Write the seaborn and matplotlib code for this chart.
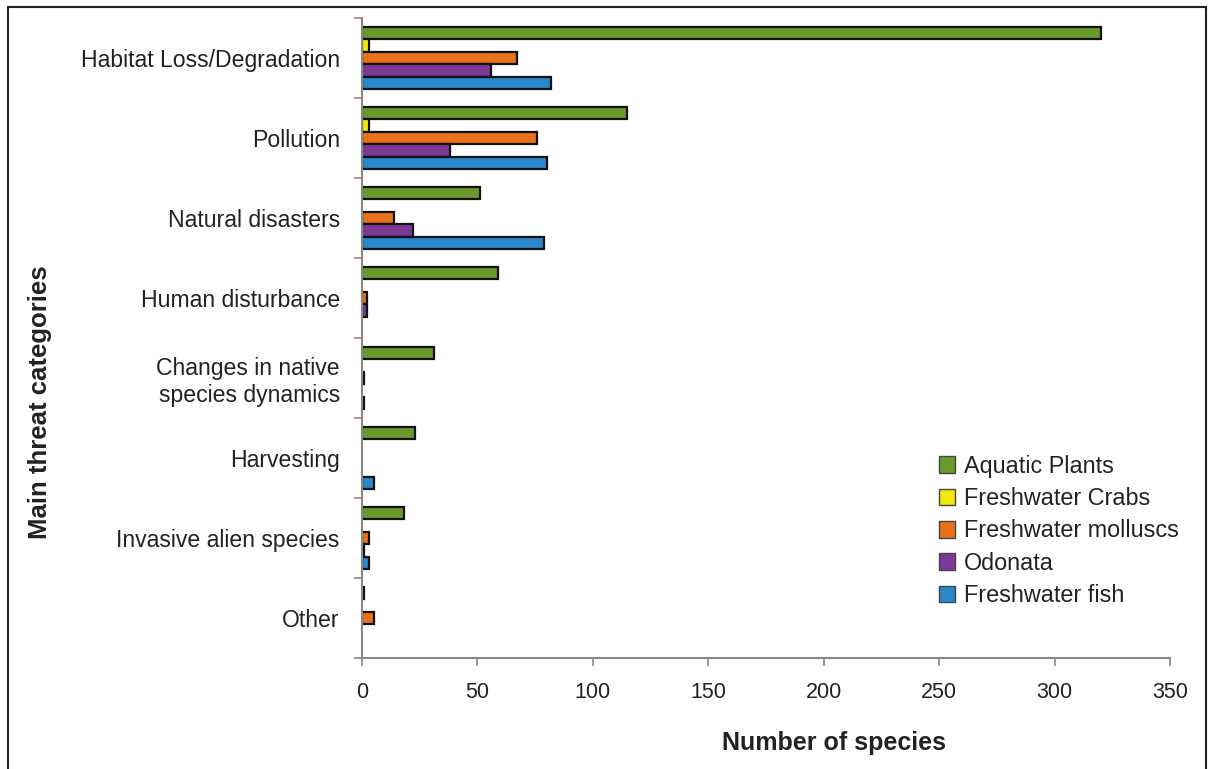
import numpy as np
import pandas as pd
import matplotlib
matplotlib.use("Agg")
import matplotlib.pyplot as plt
import seaborn as sns
from matplotlib.patches import Rectangle

categories = ["Habitat Loss/Degradation", "Pollution", "Natural disasters",
              "Human disturbance", "Changes in native\nspecies dynamics",
              "Harvesting", "Invasive alien species", "Other"]
groups = ["Aquatic Plants", "Freshwater Crabs", "Freshwater molluscs",
          "Odonata", "Freshwater fish"]
aquatic_plants = [320, 115, 51, 59, 31, 23, 18, 1]
freshwater_crabs = [3, 3, 0, 0, 0, 0, 0, 0]
freshwater_molluscs = [67, 76, 14, 2, 1, 0, 3, 5]
odonata = [56, 38, 22, 2, 0, 0, 1, 0]
freshwater_fish = [82, 80, 79, 0, 1, 5, 3, 0]
colors = ["#6a9a2e", "#f2e80a", "#e8711a", "#7a3996", "#2a88cc"]

rows = []
for g, vals in zip(groups, [aquatic_plants, freshwater_crabs, freshwater_molluscs,
                            odonata, freshwater_fish]):
    for c, v in zip(categories, vals):
        rows.append({"category": c, "group": g, "value": v})
df = pd.DataFrame(rows)

sns.set_theme(style="white")
plt.rcParams['font.family'] = ['Liberation Sans', 'DejaVu Sans']

W, H = 1212, 769
fig = plt.figure(figsize=(W / 100, H / 100), dpi=100)
ax = fig.add_axes([362 / W, 1 - 658 / H, (1170 - 362) / W, (658 - 18) / H])

sns.barplot(data=df, y="category", x="value", hue="group", order=categories,
            hue_order=groups, palette=colors, orient="h", width=0.78,
            saturation=1, edgecolor="#111111", linewidth=1.6, ax=ax)

for cont in ax.containers:
    for bar in cont:
        if bar.get_width() == 0:
            bar.set_visible(False)

ax.set_xlim(0, 350)
ax.set_ylim(len(categories) - 0.5, -0.5)
ax.set_xticks(np.arange(0, 351, 50))
ax.set_xticklabels([str(v) for v in range(0, 351, 50)], fontsize=15.5)
ax.set_yticks(np.arange(len(categories)))
ax.set_yticklabels(categories, fontsize=16.6, linespacing=1.2)
ax.set_yticks(np.arange(-0.5, len(categories), 1.0), minor=True)
ax.tick_params(axis="y", which="major", length=0, pad=16, labelcolor="#222222")
ax.tick_params(axis="y", which="minor", length=6, width=1.2, color="#888888", left=True)
ax.tick_params(axis="x", which="major", length=6, width=1.2, color="#888888",
               bottom=True, pad=11, labelcolor="#222222")

for s in ["top", "right"]:
    ax.spines[s].set_visible(False)
for s in ["left", "bottom"]:
    ax.spines[s].set_color("#888888")
    ax.spines[s].set_linewidth(1.5)

ax.set_xlabel("")
ax.set_ylabel("")
fig.text(834 / W, 1 - 743 / H, "Number of species", fontsize=18, fontweight="bold",
         ha="center", va="center", color="#222222")
fig.text(40 / W, 1 - 402 / H, "Main threat categories", fontsize=18.5, fontweight="bold",
         ha="center", va="center", rotation=90, color="#222222")

leg = ax.legend(loc="lower right", bbox_to_anchor=(1.022, 0.065), frameon=False,
                fontsize=16.8, handlelength=0.72, handleheight=0.72,
                handletextpad=0.35, labelspacing=0.4, borderaxespad=0)
for t in leg.get_texts():
    t.set_color("#222222")
for h in leg.legend_handles:
    h.set_edgecolor("#444444")
    h.set_linewidth(1.0)

fig.patches.append(Rectangle((8 / W, -0.05), (1206 - 8) / W, 1.05 - 7 / H,
                             transform=fig.transFigure, fill=False,
                             edgecolor="#222222", linewidth=1.5))

fig.savefig("out.png", dpi=100, facecolor="white")
